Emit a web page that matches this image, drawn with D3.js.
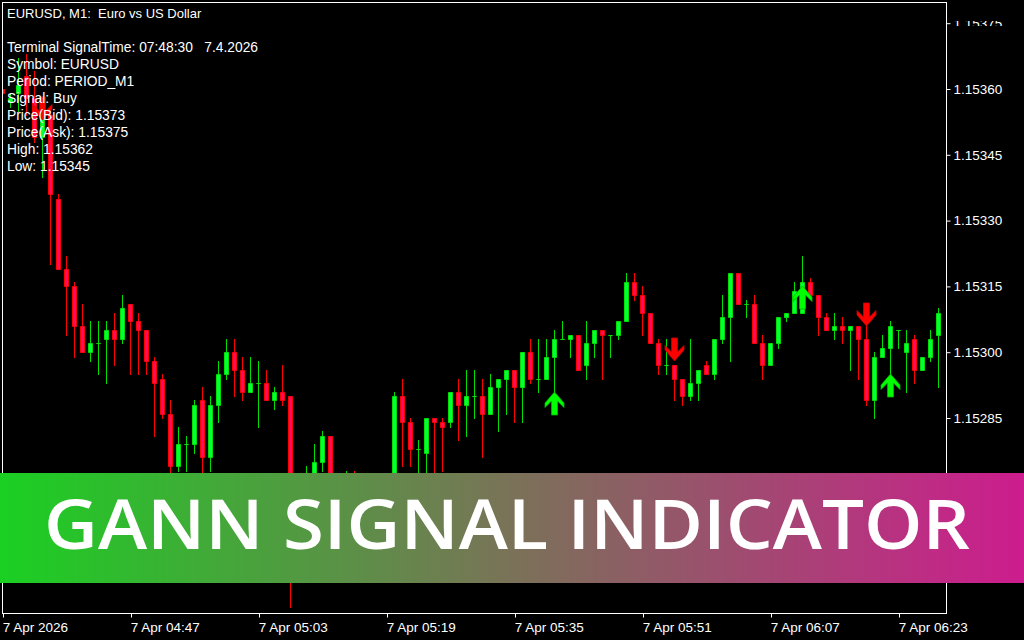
<!DOCTYPE html>
<meta charset="utf-8" />
<html lang="en">
<head>
    <meta charset="utf-8" />
    <title>Gann Signal Indicator</title>
    <script src="https://d3js.org/d3.v7.min.js"></script>
    <style>
        body { margin: 0; background: #000; }
        svg { display: block; }
        .info text, .axis text { font-family: "Liberation Sans", Arial, sans-serif; fill: #fff; white-space: pre; }
    </style>
</head>
<body>
<div id="chart"></div>
<script>
// EURUSD M1 bars, 7 Apr 2026 from 04:31
const opens = [1.15360,1.15357,1.15359,1.15363,1.15358,1.15349,1.15354,1.15335,1.15319,1.15315,
    1.15306,1.15300,1.15302,1.15303,1.15305,1.15303,1.15311,1.15307,1.15305,1.15298,
    1.15294,1.15286,1.15274,1.15279,1.15279,1.15289,1.15276,1.15288,1.15295,1.15300,
    1.15296,1.15291,1.15293,1.15293,1.15289,1.15291,1.15290,1.15260,1.15266,1.15269,
    1.15275,1.15281,1.15267,1.15262,1.15269,1.15264,1.15259,1.15263,1.15267,1.15264,
    1.15290,1.15284,1.15278,1.15277,1.15285,1.15284,1.15284,1.15291,1.15288,1.15290,
    1.15290,1.15286,1.15292,1.15294,1.15296,1.15292,1.15300,1.15294,1.15294,1.15299,
    1.15303,1.15303,1.15304,1.15297,1.15302,1.15305,1.15304,1.15304,1.15307,1.15316,
    1.15313,1.15309,1.15302,1.15297,1.15297,1.15294,1.15290,1.15293,1.15297,1.15295,
    1.15303,1.15308,1.15318,1.15311,1.15311,1.15302,1.15297,1.15302,1.15308,1.15309,
    1.15309,1.15316,1.15313,1.15308,1.15305,1.15306,1.15305,1.15306,1.15303,1.15289,
    1.15299,1.15301,1.15305,1.15300,1.15303,1.15296,1.15299,1.15304];
const highs = [1.15361,1.15359,1.15367,1.15368,1.15364,1.15356,1.15355,1.15336,1.15322,1.15316,
    1.15311,1.15307,1.15307,1.15307,1.15309,1.15313,1.15311,1.15309,1.15305,1.15299,
    1.15295,1.15289,1.15283,1.15281,1.15289,1.15292,1.15290,1.15298,1.15303,1.15303,
    1.15299,1.15299,1.15298,1.15296,1.15292,1.15297,1.15290,1.15270,1.15274,1.15279,
    1.15282,1.15281,1.15269,1.15273,1.15273,1.15266,1.15265,1.15269,1.15270,1.15291,
    1.15294,1.15285,1.15280,1.15285,1.15285,1.15285,1.15291,1.15294,1.15296,1.15296,
    1.15294,1.15295,1.15294,1.15296,1.15296,1.15300,1.15303,1.15303,1.15303,1.15305,
    1.15307,1.15304,1.15304,1.15307,1.15305,1.15305,1.15304,1.15307,1.15318,1.15318,
    1.15315,1.15309,1.15303,1.15303,1.15297,1.15294,1.15303,1.15296,1.15298,1.15303,
    1.15313,1.15318,1.15318,1.15312,1.15313,1.15304,1.15302,1.15308,1.15309,1.15316,
    1.15322,1.15317,1.15313,1.15309,1.15309,1.15308,1.15306,1.15306,1.15306,1.15300,
    1.15304,1.15307,1.15305,1.15305,1.15304,1.15299,1.15305,1.15310];
const lows = [1.15358,1.15356,1.15355,1.15354,1.15348,1.15340,1.15320,1.15319,1.15304,1.15299,
    1.15300,1.15298,1.15295,1.15293,1.15297,1.15302,1.15295,1.15295,1.15295,1.15281,
    1.15285,1.15272,1.15273,1.15273,1.15277,1.15270,1.15273,1.15284,1.15294,1.15290,
    1.15289,1.15291,1.15283,1.15289,1.15287,1.15288,1.15242,1.15255,1.15262,1.15267,
    1.15273,1.15265,1.15259,1.15260,1.15261,1.15256,1.15255,1.15260,1.15261,1.15262,
    1.15274,1.15274,1.15272,1.15272,1.15272,1.15273,1.15283,1.15280,1.15281,1.15285,
    1.15276,1.15286,1.15282,1.15286,1.15284,1.15284,1.15293,1.15291,1.15294,1.15291,
    1.15303,1.15299,1.15296,1.15294,1.15299,1.15294,1.15299,1.15303,1.15307,1.15312,
    1.15304,1.15302,1.15295,1.15295,1.15289,1.15288,1.15289,1.15289,1.15295,1.15294,
    1.15302,1.15298,1.15311,1.15308,1.15302,1.15294,1.15297,1.15301,1.15307,1.15309,
    1.15309,1.15313,1.15304,1.15305,1.15303,1.15302,1.15296,1.15294,1.15288,1.15285,
    1.15299,1.15295,1.15301,1.15291,1.15293,1.15296,1.15298,1.15292];
const closes = [1.15359,1.15358,1.15361,1.15358,1.15349,1.15354,1.15336,1.15319,1.15315,1.15306,
    1.15300,1.15302,1.15302,1.15305,1.15303,1.15310,1.15307,1.15305,1.15298,1.15293,
    1.15286,1.15274,1.15279,1.15279,1.15288,1.15276,1.15288,1.15295,1.15300,1.15296,
    1.15291,1.15293,1.15293,1.15289,1.15291,1.15289,1.15260,1.15267,1.15270,1.15275,
    1.15281,1.15267,1.15262,1.15269,1.15264,1.15259,1.15263,1.15267,1.15264,1.15290,
    1.15284,1.15278,1.15278,1.15285,1.15284,1.15283,1.15291,1.15288,1.15290,1.15290,
    1.15286,1.15292,1.15294,1.15296,1.15292,1.15300,1.15294,1.15294,1.15299,1.15303,
    1.15303,1.15304,1.15296,1.15302,1.15305,1.15304,1.15304,1.15307,1.15316,1.15313,
    1.15309,1.15302,1.15297,1.15297,1.15294,1.15290,1.15293,1.15296,1.15295,1.15303,
    1.15308,1.15318,1.15311,1.15311,1.15302,1.15297,1.15302,1.15308,1.15309,1.15314,
    1.15316,1.15313,1.15308,1.15305,1.15306,1.15305,1.15306,1.15303,1.15289,1.15299,
    1.15301,1.15306,1.15305,1.15302,1.15296,1.15299,1.15303,1.15309];

// indicator arrows: bar index, direction, price at arrow tip
const signalBars = [5, 69, 84, 100, 108, 111];
const signalTypes = ["sell", "buy", "sell", "buy", "sell", "buy"];
const signalPrices = [1.15353, 1.15291, 1.15298, 1.15315, 1.15306, 1.15295];

const priceTicks = [1.15285, 1.15300, 1.15315, 1.15330, 1.15345, 1.15360, 1.15375];
const timeLabels = ["7 Apr 2026", "7 Apr 04:47", "7 Apr 05:03", "7 Apr 05:19",
    "7 Apr 05:35", "7 Apr 05:51", "7 Apr 06:07", "7 Apr 06:23"];
const infoLines = ["Terminal SignalTime: 07:48:30   7.4.2026", "Symbol: EURUSD", "Period: PERIOD_M1",
    "Signal: Buy", "Price(Bid): 1.15373", "Price(Ask): 1.15375", "High: 1.15362", "Low: 1.15345"];

const width = 1024, height = 640;
const frame = { left: 2, top: 2, right: 946, bottom: 613 };
const bullColor = "#00ff3c", bullLine = "#00e000",
      bearColor = "#ff0a5c", bearLine = "#ff0000";

const start = new Date(2026, 3, 7, 4, 31);
const bars = opens.map((o, i) => ({
    t: d3.timeMinute.offset(start, i), o: o, h: highs[i], l: lows[i], c: closes[i]
}));

const x = d3.scaleTime()
    .domain([start, d3.timeMinute.offset(start, 117)])
    .range([2.3, 938.3]);
const y = d3.scaleLinear()
    .domain([1.15285, 1.15375])
    .range([418, 23.2]);

const svg = d3.select("#chart").append("svg")
    .attr("width", width)
    .attr("height", height);

svg.append("rect").attr("width", width).attr("height", height).attr("fill", "#000");

const defs = svg.append("defs");
defs.append("clipPath").attr("id", "plot")
    .append("rect")
    .attr("x", frame.left + 1).attr("y", frame.top + 1)
    .attr("width", frame.right - frame.left - 1).attr("height", frame.bottom - frame.top - 1);
// the top price label is only partly shown (local coords of the tick)
defs.append("clipPath").attr("id", "topLabel")
    .append("rect").attr("x", -5).attr("y", -2.6).attr("width", 90).attr("height", 5);

const grad = defs.append("linearGradient").attr("id", "banner")
    .attr("x1", "0%").attr("x2", "100%").attr("y1", "0%").attr("y2", "0%");
grad.append("stop").attr("offset", "0%").attr("stop-color", "rgb(26,208,34)");
grad.append("stop").attr("offset", "50%").attr("stop-color", "rgb(122,114,88)");
grad.append("stop").attr("offset", "100%").attr("stop-color", "rgb(205,28,142)");

// candles
const plot = svg.append("g").attr("clip-path", "url(#plot)");

const candle = plot.selectAll(".bar")
    .data(bars)
    .enter().append("g")
    .attr("class", "bar");

candle.append("line")
    .attr("x1", d => Math.round(x(d.t)) + 0.5)
    .attr("x2", d => Math.round(x(d.t)) + 0.5)
    .attr("y1", d => Math.round(y(d.h)))
    .attr("y2", d => Math.round(y(d.l)) + 1)
    .attr("stroke", d => d.c >= d.o ? bullLine : bearLine)
    .attr("stroke-width", 1);

candle.append("path")
    .attr("d", d => {
        const left = Math.round(x(d.t)) - 2;
        const top = Math.round(y(Math.max(d.o, d.c)));
        const bottom = Math.round(y(Math.min(d.o, d.c)));
        return "M" + (left + 0.5) + "," + (top + 0.5) + "h4v" + (bottom - top) + "h-4z";
    })
    .attr("fill", d => d.c >= d.o ? bullColor : bearColor)
    .attr("stroke", d => d.c >= d.o ? bullLine : bearLine)
    .attr("stroke-width", 1);

// signal arrows (tip at the price)
function arrowPath(type) {
    const s = type === "buy" ? 1 : -1;
    const pts = [[0, 0], [9.5, 11], [9.5, 15.5], [3, 9], [3, 23], [-3, 23], [-3, 9], [-9.5, 15.5], [-9.5, 11]];
    return "M" + pts.map(p => p[0] + "," + (p[1] * s)).join("L") + "Z";
}

plot.selectAll(".signal")
    .data(signalBars)
    .enter().append("path")
    .attr("class", "signal")
    .attr("transform", (d, i) => "translate(" + (Math.round(x(bars[d].t)) + 0.5) + "," + Math.round(y(signalPrices[i])) + ")")
    .attr("d", (d, i) => arrowPath(signalTypes[i]))
    .attr("fill", (d, i) => signalTypes[i] === "buy" ? "#00ff00" : "#ff0000")
    .attr("stroke", (d, i) => signalTypes[i] === "buy" ? "#00b400" : "#c80000")
    .attr("stroke-width", 0.8);

// frame
svg.append("rect")
    .attr("x", frame.left + 0.5).attr("y", frame.top + 0.5)
    .attr("width", frame.right - frame.left).attr("height", frame.bottom - frame.top)
    .attr("fill", "none").attr("stroke", "#fff").attr("stroke-width", 1);

// price axis
const yAxis = svg.append("g")
    .attr("class", "axis")
    .attr("transform", "translate(" + (frame.right + 0.5) + ",0)")
    .call(d3.axisRight(y).tickValues(priceTicks).tickFormat(d3.format(".5f")).tickSize(4).tickPadding(3));
yAxis.select(".domain").remove();
yAxis.selectAll(".tick line").attr("stroke", "#fff");
yAxis.selectAll("text").attr("font-size", 13.5);
yAxis.selectAll(".tick").filter(d => d === 1.15375).select("text").attr("clip-path", "url(#topLabel)");

// time axis
const timeTicks = timeLabels.map((d, i) => d3.timeMinute.offset(start, i * 16));
const xAxis = svg.append("g")
    .attr("class", "axis")
    .attr("transform", "translate(0," + (frame.bottom + 0.5) + ")")
    .call(d3.axisBottom(x).tickValues(timeTicks).tickFormat((d, i) => timeLabels[i]).tickSize(4).tickPadding(5));
xAxis.select(".domain").remove();
xAxis.selectAll(".tick line").attr("stroke", "#fff").attr("transform", "translate(0.7,0)");
xAxis.selectAll("text").attr("text-anchor", "start").attr("font-size", 13.5).attr("dx", 0);

// info text
const info = svg.append("g").attr("class", "info");
info.append("text").attr("x", 7).attr("y", 18).attr("font-size", 13).text("EURUSD, M1:  Euro vs US Dollar");
info.selectAll(".line")
    .data(infoLines)
    .enter().append("text")
    .attr("class", "line")
    .attr("x", 7)
    .attr("y", (d, i) => 52 + i * 17)
    .attr("font-size", 13.8)
    .text(d => d);

// banner
svg.append("rect")
    .attr("x", 0).attr("y", 473)
    .attr("width", width).attr("height", 110)
    .attr("fill", "url(#banner)");
svg.append("text")
    .attr("x", 44).attr("y", 549)
    .attr("textLength", 926)
    .attr("lengthAdjust", "spacingAndGlyphs")
    .attr("font-family", "'Open Sans', Lato, sans-serif")
    .attr("font-weight", 600)
    .attr("font-size", 68)
    .attr("fill", "#fff")
    .text("GANN SIGNAL INDICATOR");
</script>
</body>
</html>
